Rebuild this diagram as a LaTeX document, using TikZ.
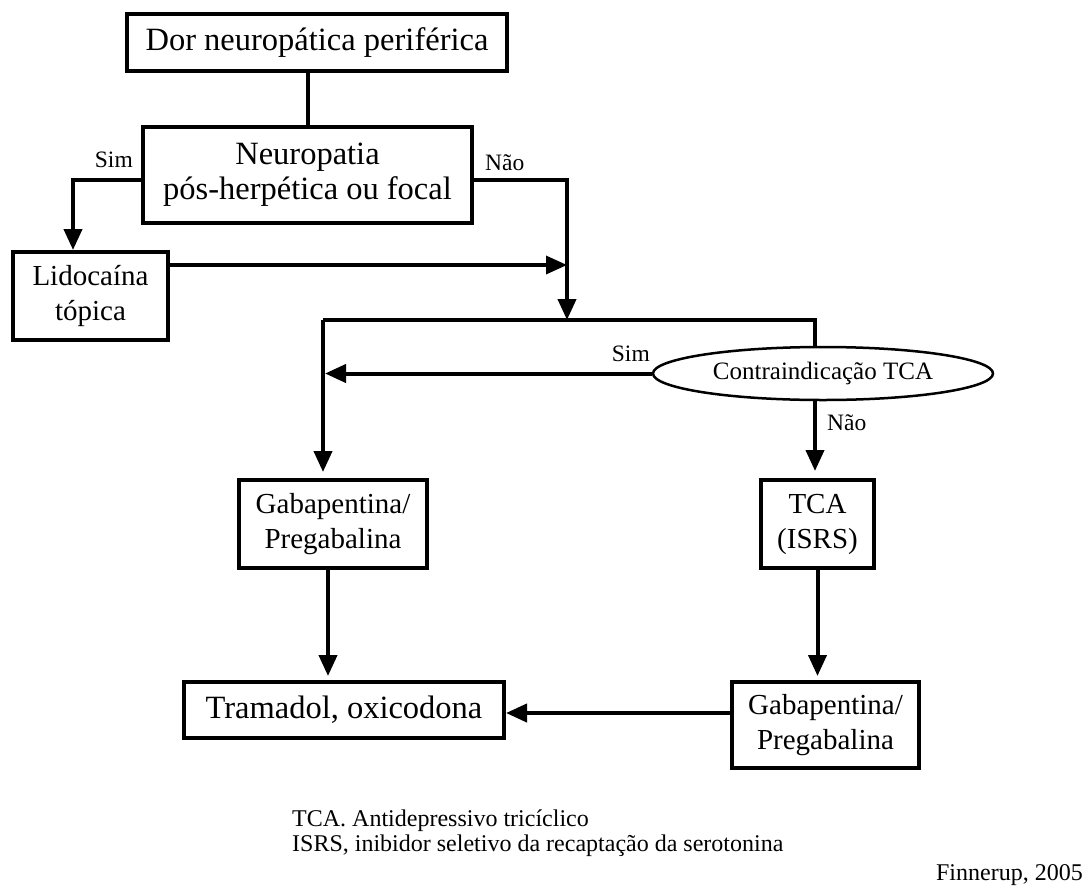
\documentclass[tikz,border=0pt]{standalone}
\usepackage{fontspec}
\setmainfont{Liberation Serif}
\usetikzlibrary{arrows.meta,shapes.geometric}

\begin{document}
\begin{tikzpicture}[x=1pt,y=-1pt,
  box/.style={draw,line width=4pt,inner sep=0pt,align=center},
  bigtext/.style={font=\fontsize{32.5}{35}\selectfont},
  midtext/.style={font=\fontsize{29}{35}\selectfont},
  lbl/.style={font=\fontsize{23.5}{25}\selectfont,inner sep=0pt},
  note/.style={font=\fontsize{24}{25}\selectfont,inner sep=0pt},
  conn/.style={line width=4pt},
  arr/.style={conn,-{Triangle[width=18pt,length=21pt]}}]

\useasboundingbox (0,0) rectangle (1090,892);

% boxes
\node[box,bigtext,minimum width=380pt,minimum height=57pt] (top) at (317,42.5) {Dor neuropática periférica};
\node[box,bigtext,minimum width=329pt,minimum height=96pt] (nb) at (307.5,175) {Neuropatia\\pós-herpética ou focal};
\node[box,midtext,minimum width=155pt,minimum height=88pt] (lido) at (90.5,296) {Lidocaína\\tópica};
\node[draw,ellipse,line width=2.5pt,inner sep=0pt,minimum width=340pt,minimum height=53pt,
      font=\fontsize{25}{25}\selectfont] (ct) at (823,373.5) {Contraindicação TCA};
\node[box,midtext,minimum width=188pt,minimum height=88pt] (gab1) at (333,524) {Gabapentina/\\Pregabalina};
\node[box,midtext,minimum width=113pt,minimum height=88pt] (tca) at (817.5,524) {TCA\\(ISRS)};
\node[box,bigtext,minimum width=320pt,minimum height=56pt] (tram) at (344,710) {Tramadol, oxicodona};
\node[box,midtext,minimum width=187pt,minimum height=86pt] (gab2) at (825.5,725) {Gabapentina/\\Pregabalina};

% junction points
\coordinate (j) at (567,320);
\coordinate (bl) at (323,320);
\coordinate (br) at (815,320);

% connectors
\draw[conn] (nb.north) -- (nb.north |- top.south);
\draw[arr] ([yshift=-5pt]nb.west) -| ([xshift=-17.5pt]lido.north);
\draw[arr] ([yshift=-5pt]nb.east) -| (j);
\draw[arr,line width=3.5pt] ([yshift=31pt]lido.east) -- ([yshift=31pt]lido.east -| j);
\draw[conn] (bl) -- (br) -- (br |- ct.north);
\draw[arr,shorten >=6pt] (bl) -- (bl |- gab1.north);
\draw[arr,shorten >=2pt] (ct.west) -- (ct.west -| bl);
\draw[arr,shorten >=7pt] (ct.south -| br) -- (tca.north -| br);
\draw[arr,shorten >=4pt] (tca.south) -- (tca.south |- gab2.north);
\draw[arr,shorten >=4pt] ([xshift=-5pt]gab1.south) -- ([xshift=-5pt]gab1.south |- tram.north);
\draw[arr] ([yshift=-3pt]tram.east -| gab2.west) -- ([yshift=-3pt]tram.east);

% branch labels
\node[lbl,anchor=base east] (s1) at (133,167) {Sim};
\node[lbl,anchor=base west] (n1) at (485,170) {Não};
\node[lbl,anchor=base east] (s2) at (650,361) {Sim};
\node[lbl,anchor=base west] (n2) at (827,430) {Não};

% footnotes
\node[note,anchor=base west] (f1) at (292,826) {TCA. Antidepressivo tricíclico};
\node[note,anchor=base west] (f2) at (292,851) {ISRS, inibidor seletivo da recaptação da serotonina};
\node[note,anchor=base east] (src) at (1083,880) {Finnerup, 2005};

\end{tikzpicture}
\end{document}
